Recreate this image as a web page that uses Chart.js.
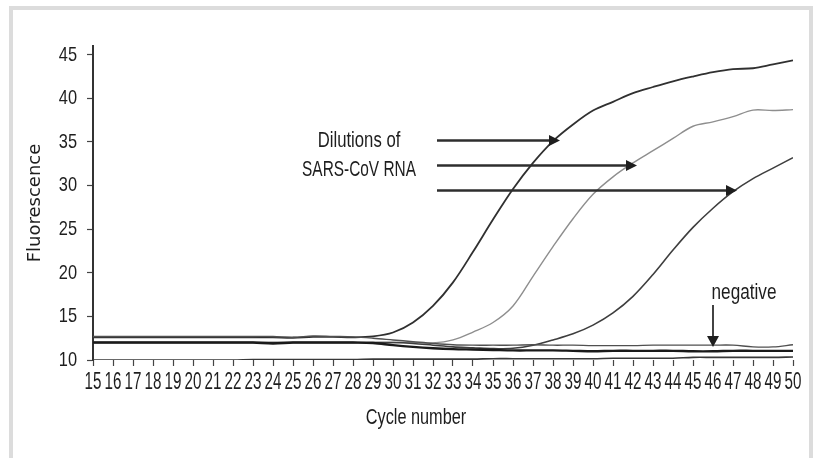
<!DOCTYPE html>
<html>
<head>
<meta charset="utf-8">
<title>SARS-CoV RNA real-time PCR</title>
<script src="https://cdn.jsdelivr.net/npm/chart.js@4.4.0/dist/chart.umd.min.js"></script>
<style>
  body { margin: 0; background: #fff; }
  #wrap { position: relative; width: 821px; height: 458px; overflow: hidden; }
  #frame { position: absolute; left: 9px; top: 6px; width: 796px; height: 470px; border: 4px solid #dcdcdc; }
  canvas { position: absolute; left: 0; top: 0; }
</style>
</head>
<body>
<div id="wrap">
  <div id="frame"></div>
  <canvas id="pcrChart" width="821" height="458"></canvas>
</div>
<script>
'use strict';

// Data
const cycles = [15, 16, 17, 18, 19, 20, 21, 22, 23, 24, 25, 26, 27, 28, 29, 30, 31, 32,
  33, 34, 35, 36, 37, 38, 39, 40, 41, 42, 43, 44, 45, 46, 47, 48, 49, 50];
const yTickValues = [10, 15, 20, 25, 30, 35, 40, 45];

const dilution1 = [12.6, 12.6, 12.6, 12.6, 12.6, 12.6, 12.6, 12.6, 12.6, 12.6, 12.55, 12.65, 12.65, 12.6,
  12.7, 13.15, 14.3, 16.2, 18.9, 22.4, 26.1, 29.6, 32.6, 35.1, 37.0, 38.6, 39.6, 40.6, 41.3, 41.95,
  42.5, 43.0, 43.35, 43.45, 43.9, 44.35];
const dilution2 = [12.0, 12.0, 12.0, 12.0, 12.0, 12.0, 12.0, 12.0, 12.0, 12.0, 12.0, 12.0, 12.0, 12.0,
  12.0, 12.0, 12.0, 11.95, 12.3, 13.2, 14.3, 16.2, 19.6, 23.0, 26.2, 29.0, 31.0, 32.6, 34.0, 35.4,
  36.8, 37.3, 37.9, 38.65, 38.6, 38.7];
const dilution3 = [12.0, 12.0, 12.0, 12.0, 12.0, 12.0, 12.0, 12.0, 12.0, 12.0, 12.0, 12.0, 12.0, 12.0,
  12.0, 12.0, 11.9, 11.7, 11.5, 11.4, 11.3, 11.35, 11.7, 12.3, 13.0, 14.0, 15.4, 17.3, 19.8, 22.6,
  25.2, 27.4, 29.3, 30.8, 32.0, 33.2];
const negative1 = [12.7, 12.7, 12.7, 12.7, 12.7, 12.7, 12.7, 12.7, 12.7, 12.7, 12.6, 12.75, 12.7,
  12.65, 12.5, 12.3, 12.1, 11.9, 11.75, 11.7, 11.7, 11.7, 11.75, 11.7, 11.7, 11.65, 11.65, 11.65,
  11.7, 11.7, 11.7, 11.7, 11.7, 11.5, 11.5, 11.75];
const negative2 = [12.0, 12.0, 12.0, 12.0, 12.0, 12.0, 12.0, 12.0, 12.0, 11.9, 12.0, 12.0, 12.0, 12.0,
  11.95, 11.7, 11.5, 11.35, 11.25, 11.2, 11.15, 11.1, 11.1, 11.1, 11.05, 11.0, 11.05, 11.05, 11.05,
  11.05, 11.0, 11.0, 11.05, 11.05, 11.05, 11.05];
const baseline = [10.0, 10.0, 10.0, 10.0, 10.0, 10.0, 10.0, 10.0, 10.05, 10.05, 10.05, 10.05, 10.05,
  10.05, 10.1, 10.1, 10.1, 10.1, 10.1, 10.1, 10.15, 10.15, 10.15, 10.15, 10.15, 10.15, 10.2, 10.2,
  10.2, 10.2, 10.3, 10.3, 10.3, 10.3, 10.3, 10.35];

// Arrows (cycle / fluorescence coordinates)
const arrowStartCycle = [32.2, 32.2, 32.2];
const arrowEndCycle = [38.35, 42.2, 47.2];
const arrowLevel = [35.17, 32.3, 29.43];
const negArrowCycle = 46;
const negArrowFrom = 16.3;
const negArrowTo = 11.5;

const baseFont = "'Liberation Sans', Arial, sans-serif";
const textColor = '#1e1e1e';

function toPoints(values) {
  return values.map((v, i) => ({ x: cycles[i], y: v }));
}

function makeLine(values, color, width) {
  return {
    data: toPoints(values),
    borderColor: color,
    borderWidth: width,
    pointRadius: 0,
    fill: false,
    tension: 0.35
  };
}

// condensed text, like the narrow face of the original figure
function drawNarrow(ctx, text, x, y, size, align, squeeze) {
  ctx.save();
  ctx.translate(x, y);
  ctx.scale(squeeze, 1);
  ctx.font = size + 'px ' + baseFont;
  ctx.fillStyle = textColor;
  ctx.textAlign = align;
  ctx.textBaseline = 'middle';
  ctx.fillText(text, 0, 0);
  ctx.restore();
}

function drawArrowHead(ctx, x, y, dir, len, half) {
  ctx.beginPath();
  if (dir === 'right') {
    ctx.moveTo(x, y);
    ctx.lineTo(x - len, y - half);
    ctx.lineTo(x - len, y + half);
  } else {
    ctx.moveTo(x, y);
    ctx.lineTo(x - half, y - len);
    ctx.lineTo(x + half, y - len);
  }
  ctx.closePath();
  ctx.fill();
}

// Tick labels in the narrow face, at the positions of the scales' own ticks
const narrowTicks = {
  id: 'narrowTicks',
  afterDraw(chart) {
    const ctx = chart.ctx;
    const xs = chart.scales.x;
    const ys = chart.scales.y;
    for (let tick of xs.ticks) {
      drawNarrow(ctx, String(tick.value), xs.getPixelForValue(tick.value), xs.top + 23, 23, 'center', 0.66);
    }
    for (let tick of ys.ticks) {
      drawNarrow(ctx, String(tick.value), ys.right - 16, ys.getPixelForValue(tick.value), 21, 'right', 0.78);
    }
    drawNarrow(ctx, 'Cycle number', xs.getPixelForValue(31.15), xs.top + 58, 22, 'center', 0.74);
  }
};

// Annotation plugin: arrows and labels
const annotations = {
  id: 'annotations',
  afterDatasetsDraw(chart) {
    const ctx = chart.ctx;
    const xs = chart.scales.x;
    const ys = chart.scales.y;
    ctx.save();
    ctx.strokeStyle = '#2e2e2e';
    ctx.fillStyle = '#1e1e1e';
    ctx.lineWidth = 2.4;

    for (let i = 0; i < arrowLevel.length; i++) {
      const x1 = xs.getPixelForValue(arrowStartCycle[i]);
      const x2 = xs.getPixelForValue(arrowEndCycle[i]);
      const y = ys.getPixelForValue(arrowLevel[i]);
      ctx.beginPath();
      ctx.moveTo(x1, y);
      ctx.lineTo(x2 - 8, y);
      ctx.stroke();
      drawArrowHead(ctx, x2, y, 'right', 11, 5.5);
    }

    const nx = xs.getPixelForValue(negArrowCycle);
    const ny1 = ys.getPixelForValue(negArrowFrom);
    const ny2 = ys.getPixelForValue(negArrowTo);
    ctx.lineWidth = 1.8;
    ctx.beginPath();
    ctx.moveTo(nx, ny1);
    ctx.lineTo(nx, ny2 - 8);
    ctx.stroke();
    drawArrowHead(ctx, nx, ny2, 'down', 11, 6);
    ctx.restore();

    drawNarrow(ctx, 'Dilutions of', xs.getPixelForValue(28.3), ys.getPixelForValue(35.1), 22, 'center', 0.76);
    drawNarrow(ctx, 'SARS-CoV RNA', xs.getPixelForValue(28.3), ys.getPixelForValue(31.8), 22, 'center', 0.7);
    drawNarrow(ctx, 'negative', xs.getPixelForValue(47.55), ys.getPixelForValue(17.7), 22, 'center', 0.78);
  }
};

// Chart
const ctx = document.getElementById('pcrChart').getContext('2d');
const pcrChart = new Chart(ctx, {
  type: 'line',
  data: {
    datasets: [
      makeLine(baseline, '#383838', 1.6),
      makeLine(negative2, '#1a1a1a', 2.4),
      makeLine(negative1, '#505050', 1.4),
      makeLine(dilution3, '#3e3e3e', 1.6),
      makeLine(dilution2, '#8e8e8e', 1.4),
      makeLine(dilution1, '#303030', 1.8)
    ]
  },
  options: {
    responsive: false,
    animation: false,
    devicePixelRatio: 1,
    layout: { padding: { top: 46, right: 28, left: 0, bottom: 0 } },
    plugins: { legend: { display: false }, tooltip: { enabled: false } },
    scales: {
      x: {
        type: 'linear',
        min: 15,
        max: 50,
        afterBuildTicks: (scale) => { scale.ticks = cycles.map(v => ({ value: v })); },
        afterFit: (scale) => { scale.height = 98; },
        border: { display: false },
        grid: { drawOnChartArea: false, drawTicks: true, tickLength: 6, color: '#444', tickWidth: 1.2 },
        ticks: { display: false, autoSkip: false }
      },
      y: {
        min: 10,
        max: 46,
        afterBuildTicks: (scale) => { scale.ticks = yTickValues.map(v => ({ value: v })); },
        afterFit: (scale) => { scale.width = 93; },
        border: { display: true, color: '#333', width: 2 },
        grid: { drawOnChartArea: false, drawTicks: true, tickLength: 6, color: '#444', tickWidth: 1.2 },
        ticks: { display: false },
        title: {
          display: true,
          text: 'Fluorescence',
          color: textColor,
          padding: { top: 25, bottom: 0 },
          font: { family: "'DejaVu Sans', sans-serif", size: 18 }
        }
      }
    }
  },
  plugins: [annotations, narrowTicks]
});
</script>
</body>
</html>
